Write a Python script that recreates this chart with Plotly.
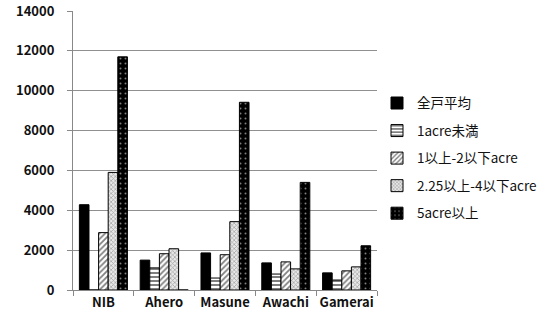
import plotly.graph_objects as go

categories = ["NIB", "Ahero", "Masune", "Awachi", "Gamerai"]
series_names = ["全戸平均", "1acre未満", "1以上-2以下acre", "2.25以上-4以下acre", "5acre以上"]
avg_all = [4280, 1500, 1860, 1360, 860]
under_1 = [0, 1110, 600, 800, 500]
from_1_to_2 = [2880, 1820, 1770, 1410, 960]
from_225_to_4 = [5900, 2070, 3430, 1060, 1160]
over_5 = [11700, 0, 9420, 5400, 2220]
y_ticks = [0, 2000, 4000, 6000, 8000, 10000, 12000, 14000]

values = [avg_all, under_1, from_1_to_2, from_225_to_4, over_5]
patterns = [
    dict(shape="", bgcolor="black"),
    dict(shape="-", fgcolor="black", bgcolor="white", size=4, solidity=0.5),
    dict(shape="/", fgcolor="black", bgcolor="white", size=4, solidity=0.45),
    dict(shape="x", fgcolor="#555555", bgcolor="#e8e8e8", size=3, solidity=0.4),
    dict(shape=".", fgcolor="white", bgcolor="black", size=5, solidity=0.12),
]
colors = ["black", "white", "white", "white", "black"]

fig = go.Figure()
for i, (name, vals) in enumerate(zip(series_names, values)):
    fig.add_trace(go.Bar(
        x=categories, y=vals, name=name,
        marker=dict(color=colors[i], pattern=patterns[i],
                    line=dict(color="black", width=1)),
        legendgroup=f"g{i}",
    ))

fig.update_layout(
    width=553, height=320,
    margin=dict(l=73, r=171, t=11, b=30),
    paper_bgcolor="white", plot_bgcolor="white",
    barmode="group", bargap=0.21, bargroupgap=0,
    font=dict(family="Noto Sans CJK JP", size=12, color="black"),
    legend=dict(x=1.0, y=0.725, xanchor="left", yanchor="top",
                font=dict(size=13.5, color="#111111"), tracegroupgap=7,
                bgcolor="rgba(0,0,0,0)"),
    showlegend=True,
)
fig.update_xaxes(
    type="category", showline=True, linecolor="#888888", linewidth=1,
    ticks="outside", tickson="boundaries", ticklen=5, tickcolor="#888888",
    showgrid=False, automargin=False, tickangle=0,
    tickfont=dict(size=13, family="Noto Sans CJK JP", weight="bold", color="#111111"),
)
fig.update_yaxes(
    range=[0, 14000], tickvals=y_ticks, showline=True, linecolor="#888888",
    linewidth=1, ticks="outside", ticklen=5, tickcolor="#888888",
    showgrid=True, gridcolor="#909090", gridwidth=1, zeroline=False,
    automargin=False, ticklabelstandoff=10,
    tickfont=dict(size=13, weight="bold", color="#111111"), tickformat="d",
)

fig.write_html("out.html", config={"displayModeBar": False},
               post_script="document.body.style.margin='0';")
